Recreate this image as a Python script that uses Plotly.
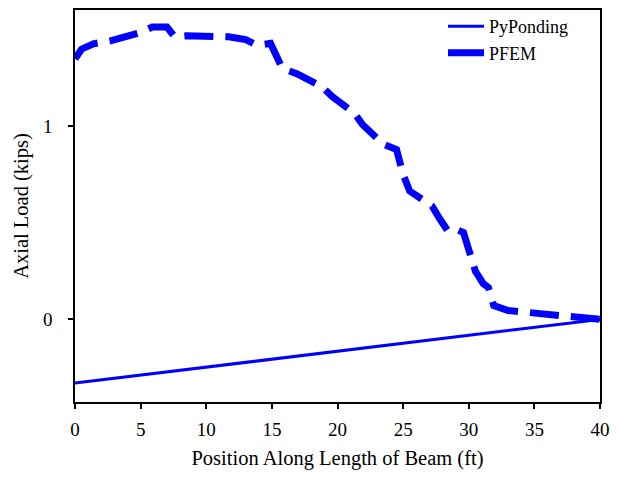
import plotly.graph_objects as go

# PyPonding results
py_x = [0, 40]
py_y = [-0.33, 0.0]

# PFEM results
pfem_x = [0, 0.5, 1.4, 2.7, 4.9, 5.9, 7.0, 7.6, 8.5, 10.7, 11.7, 13.0, 13.9, 14.9, 15.8,
          16.9, 18.8, 19.6, 21.3, 21.9, 23.5, 24.5, 25.0, 25.5, 27.2, 27.8, 28.4, 29.1, 29.6,
          30.5, 31.1, 31.5, 31.9, 33.0, 35.2, 36.2, 38.2, 40.0]
pfem_y = [1.35, 1.40, 1.428, 1.443, 1.485, 1.515, 1.515, 1.464, 1.469, 1.464, 1.464, 1.45, 1.42, 1.43, 1.30,
          1.273, 1.206, 1.155, 1.067, 1.01, 0.907, 0.88, 0.75, 0.665, 0.588, 0.52, 0.459, 0.465, 0.45,
          0.25, 0.185, 0.165, 0.072, 0.046, 0.03, 0.021, 0.005, 0.0]

x_ticks = [0, 5, 10, 15, 20, 25, 30, 35, 40]
y_ticks = [0, 1]

font_family = "Liberation Serif"
blue = "#0000ff"

fig = go.Figure()
fig.add_trace(go.Scatter(x=py_x, y=py_y, mode="lines", name="PyPonding",
                         line=dict(color=blue, width=3)))
fig.add_trace(go.Scatter(x=pfem_x, y=pfem_y, mode="lines", name="PFEM", showlegend=False,
                         legendgroup="pfem",
                         line=dict(color=blue, width=7, dash="29px,12px")))
# legend-only entry so the PFEM key shows a single dash segment
fig.add_trace(go.Scatter(x=[None], y=[None], mode="lines", name="PFEM",
                         legendgroup="pfem",
                         line=dict(color=blue, width=7)))

axis_common = dict(showline=True, linecolor="black", linewidth=1.5, mirror=True,
                   ticks="outside", tickcolor="black", ticklen=5, tickwidth=1.5,
                   showgrid=False, zeroline=False,
                   tickfont=dict(family=font_family, size=19, color="black"))

fig.update_layout(
    width=613, height=470,
    margin=dict(l=67, r=21, t=0, b=76),
    paper_bgcolor="white", plot_bgcolor="white",
    font=dict(family=font_family, size=19, color="black"),
    xaxis=dict(range=[0, 40], tickvals=x_ticks, ticklabelstandoff=4,
               title=dict(text="Position Along Length of Beam (ft)", standoff=12,
                          font=dict(family=font_family, size=20.5)),
               **axis_common),
    yaxis=dict(range=[-0.428, 1.603], tickvals=y_ticks, ticklabelstandoff=12,
               title=dict(text="Axial Load (kips)", standoff=9,
                          font=dict(family=font_family, size=20.5)),
               **axis_common),
    legend=dict(x=0.701, xanchor="left", y=1.005, yanchor="top",
                bgcolor="rgba(0,0,0,0)", borderwidth=0, itemwidth=36,
                font=dict(family=font_family, size=18), tracegroupgap=0),
    showlegend=True,
)

fig.write_html("out.html")
